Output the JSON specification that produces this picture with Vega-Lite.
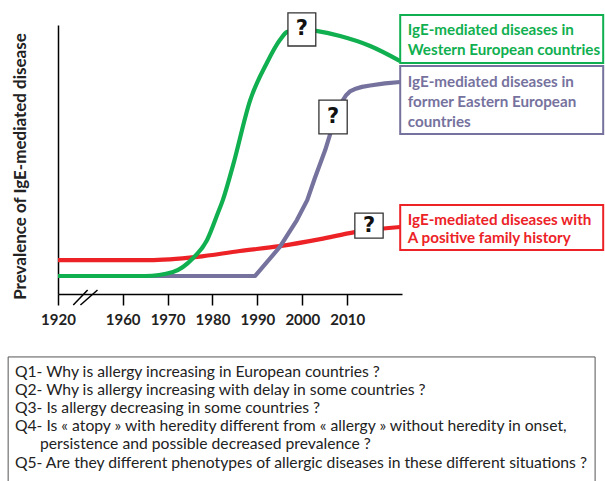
{
  "$schema": "https://vega.github.io/schema/vega-lite/v6.json",
  "width": 344,
  "height": 269,
  "autosize": "none",
  "padding": {"left": 58, "top": 25, "right": 203, "bottom": 187},
  "background": "white",
  "config": {"view": {"stroke": null}, "font": "Lato"},
  "datasets": {
    "curves": [
      {"s": "W", "year": 1945.6, "v": 6.7}, {"s": "W", "year": 1955, "v": 6.7}, {"s": "W", "year": 1965.0, "v": 6.7},
      {"s": "W", "year": 1971.2, "v": 8.2}, {"s": "W", "year": 1975.7, "v": 13.4}, {"s": "W", "year": 1978.8, "v": 20.1},
      {"s": "W", "year": 1981.2, "v": 30.1}, {"s": "W", "year": 1982.3, "v": 34.9}, {"s": "W", "year": 1984.6, "v": 48.0},
      {"s": "W", "year": 1988.4, "v": 72.1}, {"s": "W", "year": 1992.1, "v": 85.9}, {"s": "W", "year": 1995.0, "v": 94.4},
      {"s": "W", "year": 1996.6, "v": 97.4}, {"s": "W", "year": 1999.5, "v": 98.5}, {"s": "W", "year": 2003.1, "v": 97.8},
      {"s": "W", "year": 2008.4, "v": 95.9}, {"s": "W", "year": 2015.1, "v": 92.2}, {"s": "W", "year": 2021.8, "v": 86.6},
      {"s": "E", "year": 1945.6, "v": 6.7}, {"s": "E", "year": 1989.5, "v": 6.7}, {"s": "E", "year": 1995.0, "v": 17.5},
      {"s": "E", "year": 1998.8, "v": 27.5}, {"s": "E", "year": 2001.1, "v": 34.9}, {"s": "E", "year": 2002.8, "v": 43.1},
      {"s": "E", "year": 2005.1, "v": 53.5}, {"s": "E", "year": 2007.3, "v": 65.4}, {"s": "E", "year": 2008.0, "v": 68.4},
      {"s": "E", "year": 2008.9, "v": 71.7}, {"s": "E", "year": 2009.8, "v": 74.0}, {"s": "E", "year": 2010.6, "v": 75.3},
      {"s": "E", "year": 2011.7, "v": 76.2}, {"s": "E", "year": 2013.3, "v": 77.0}, {"s": "E", "year": 2015.1, "v": 77.5},
      {"s": "E", "year": 2018.4, "v": 78.3}, {"s": "E", "year": 2021.8, "v": 78.8},
      {"s": "R", "year": 1945.6, "v": 12.6}, {"s": "R", "year": 1966.1, "v": 12.6}, {"s": "R", "year": 1970.5, "v": 12.9},
      {"s": "R", "year": 1976.6, "v": 13.8}, {"s": "R", "year": 1986.1, "v": 16.0}, {"s": "R", "year": 1995.0, "v": 17.8},
      {"s": "R", "year": 2004.0, "v": 20.4}, {"s": "R", "year": 2011.7, "v": 23.0}, {"s": "R", "year": 2021.8, "v": 24.9}
    ],
    "qboxes": [
      {"year": 1996.8, "year2": 2003.0, "v": 104.5, "v2": 92.2, "t": "?"},
      {"year": 2003.7, "year2": 2010.0, "v": 72.1, "v2": 59.5, "t": "?"},
      {"year": 2011.7, "year2": 2018.0, "v": 30.1, "v2": 20.8, "t": "?"}
    ],
    "lboxes": [
      {"s": "W", "year": 2021.8, "year2": 2067.0, "v": 103.7, "v2": 85.9},
      {"s": "E", "year": 2021.8, "year2": 2067.0, "v": 84.8, "v2": 59.5},
      {"s": "R", "year": 2021.8, "year2": 2067.0, "v": 33.1, "v2": 16.4}
    ],
    "ltext": [
      {"s": "W", "year": 2023.5, "v": 98.1, "t": "IgE-mediated diseases in"},
      {"s": "W", "year": 2023.5, "v": 90.7, "t": "Western European countries"},
      {"s": "E", "year": 2023.5, "v": 78.8, "t": "IgE-mediated diseases in"},
      {"s": "E", "year": 2023.5, "v": 71.4, "t": "former Eastern European"},
      {"s": "E", "year": 2023.5, "v": 63.9, "t": "countries"},
      {"s": "R", "year": 2023.5, "v": 27.5, "t": "IgE-mediated diseases with"},
      {"s": "R", "year": 2023.5, "v": 20.8, "t": "A positive family history"}
    ],
    "brk": [
      {"year": 1949.0, "year2": 1952.2, "v": -4.1, "v2": 1.5},
      {"year": 1950.6, "year2": 1954.4, "v": -4.1, "v2": 1.5}
    ],
    "qbig": [
      {"year": 1934.5, "year2": 2065.2, "v": -23.4, "v2": -75}
    ],
    "qtext": [
      {"year": 1936.0, "v": -29.0, "t": "Q1- Why is allergy increasing in European countries ?"},
      {"year": 1936.0, "v": -35.7, "t": "Q2- Why is allergy increasing with delay in some countries ?"},
      {"year": 1936.0, "v": -42.4, "t": "Q3- Is allergy decreasing in some countries ?"},
      {"year": 1936.0, "v": -49.1, "t": "Q4- Is « atopy » with heredity different from « allergy » without heredity in onset,"},
      {"year": 1941.6, "v": -55.8, "t": "persistence and possible decreased prevalence ?"},
      {"year": 1936.0, "v": -62.8, "t": "Q5- Are they different phenotypes of allergic diseases in these different situations ?"}
    ]
  },
  "encoding": {
    "x": {
      "field": "year", "type": "quantitative",
      "scale": {"domain": [1945.6, 2022.2], "nice": false, "zero": false},
      "axis": {
        "values": [1945.6, 1960, 1970, 1980, 1990, 2000, 2010],
        "labelExpr": "datum.value < 1950 ? '1920' : format(datum.value, 'd')",
        "title": null, "grid": false, "tickSize": 11, "tickColor": "#000", "tickWidth": 1.5,
        "domainColor": "#000", "domainWidth": 1.5,
        "labelFont": "Lato", "labelFontWeight": "bold", "labelFontSize": 15, "labelColor": "#222",
        "labelPadding": 7, "labelOverlap": false, "labelBound": false, "labelFlush": false
      }
    },
    "y": {
      "field": "v", "type": "quantitative",
      "scale": {"domain": [0, 100], "nice": false, "zero": false},
      "axis": {
        "title": "Prevalence of IgE-mediated disease", "ticks": false, "labels": false, "grid": false,
        "domainColor": "#000", "domainWidth": 1.5,
        "titleFont": "Lato", "titleFontSize": 17, "titleFontWeight": "bold", "titleColor": "#222",
        "titleX": -38, "titleY": 141, "titleAngle": 270, "titleAlign": "center", "titleBaseline": "middle"
      }
    }
  },
  "layer": [
    {
      "data": {"name": "brk"},
      "mark": {"type": "rule", "stroke": "#000", "strokeWidth": 1.5},
      "encoding": {"x2": {"field": "year2"}, "y2": {"field": "v2"}}
    },
    {
      "data": {"name": "curves"},
      "transform": [{"filter": "datum.s === 'R'"}],
      "mark": {"type": "line", "interpolate": "monotone", "stroke": "#EC2227", "strokeWidth": 4.2}
    },
    {
      "data": {"name": "curves"},
      "transform": [{"filter": "datum.s === 'E'"}],
      "mark": {"type": "line", "interpolate": "linear", "stroke": "#76729E", "strokeWidth": 4.2, "strokeJoin": "round"}
    },
    {
      "data": {"name": "curves"},
      "transform": [{"filter": "datum.s === 'W'"}],
      "mark": {"type": "line", "interpolate": "monotone", "stroke": "#10AF4F", "strokeWidth": 4.2}
    },
    {
      "data": {"name": "qboxes"},
      "mark": {"type": "rect", "fill": "white", "stroke": "#333", "strokeWidth": 1.3},
      "encoding": {"x2": {"field": "year2"}, "y2": {"field": "v2"}}
    },
    {
      "data": {"name": "qboxes"},
      "transform": [{"calculate": "(datum.year + datum.year2) / 2", "as": "cx"}, {"calculate": "(datum.v + datum.v2) / 2", "as": "cy"}],
      "mark": {"type": "text", "font": "DejaVu Sans", "fontWeight": "bold", "fontSize": 21, "color": "#111", "align": "center", "baseline": "middle"},
      "encoding": {"x": {"field": "cx", "type": "quantitative"}, "y": {"field": "cy", "type": "quantitative"}, "text": {"field": "t"}}
    },
    {
      "data": {"name": "lboxes"},
      "mark": {"type": "rect", "fill": "white", "strokeWidth": 2},
      "encoding": {
        "x2": {"field": "year2"}, "y2": {"field": "v2"},
        "stroke": {"field": "s", "type": "nominal", "scale": {"domain": ["W", "E", "R"], "range": ["#10AF4F", "#76729E", "#EC2227"]}, "legend": null}
      }
    },
    {
      "data": {"name": "ltext"},
      "mark": {"type": "text", "font": "Lato", "fontWeight": "bold", "fontSize": 15.2, "align": "left", "baseline": "middle"},
      "encoding": {
        "text": {"field": "t"},
        "color": {"field": "s", "type": "nominal", "scale": {"domain": ["W", "E", "R"], "range": ["#10AF4F", "#76729E", "#EC2227"]}, "legend": null}
      }
    },
    {
      "data": {"name": "qbig"},
      "mark": {"type": "rect", "fill": null, "fillOpacity": 0, "stroke": "#555", "strokeWidth": 1},
      "encoding": {"x2": {"field": "year2"}, "y2": {"field": "v2"}}
    },
    {
      "data": {"name": "qtext"},
      "mark": {"type": "text", "font": "Lato", "fontSize": 15.7, "color": "#222", "align": "left", "baseline": "middle"},
      "encoding": {"text": {"field": "t"}}
    }
  ]
}
